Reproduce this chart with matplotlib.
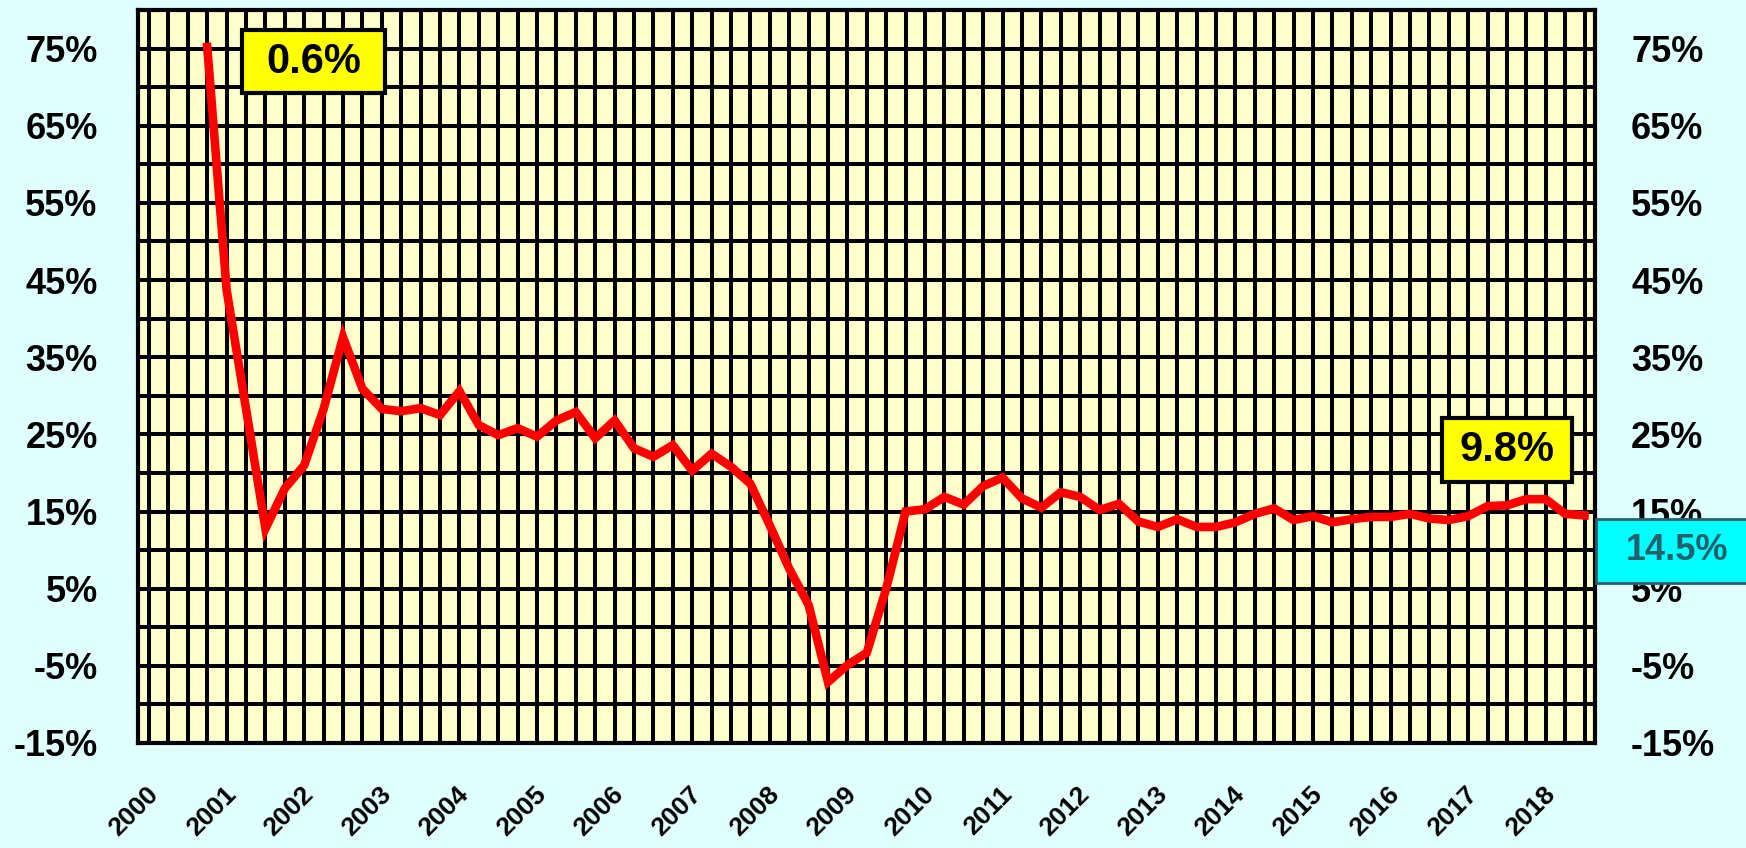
import matplotlib
matplotlib.use("Agg")
import matplotlib.pyplot as plt
import matplotlib.transforms as mtransforms
from matplotlib.patches import Rectangle
import numpy as np
import pandas as pd

# quarterly growth rate, 2000Q4 .. 2018Q3
quarters = pd.period_range("2000Q4", "2018Q3", freq="Q")
growth = [
    75.2, 43.7, 28.3, 12.8, 18.0, 21.0, 28.3, 37.6, 30.9, 28.3,
    28.0, 28.4, 27.5, 30.6, 26.2, 24.9, 25.8, 24.7, 26.8, 27.9,
    24.5, 26.8, 23.2, 22.1, 23.6, 20.3, 22.5, 20.8, 18.6, 13.2,
    7.6, 2.9, -7.1, -4.9, -3.3, 5.0, 15.0, 15.3, 16.9, 15.9,
    18.3, 19.4, 16.7, 15.5, 17.5, 16.9, 15.2, 16.0, 13.7, 13.0,
    14.0, 13.0, 13.0, 13.6, 14.7, 15.4, 13.9, 14.4, 13.6, 14.0,
    14.3, 14.3, 14.7, 14.1, 13.9, 14.4, 15.7, 15.8, 16.6, 16.6,
    14.7, 14.5,
]
years = list(range(2000, 2019))
y_ticks = list(range(-15, 76, 10))
left_note = "0.6%"
right_note = "9.8%"
last_value = "14.5%"

W, H = 1746, 848
fig = plt.figure(figsize=(W / 100, H / 100), dpi=100, facecolor="#E0FFFF")
ax = fig.add_axes([138 / W, 1 - 743 / H, (1595 - 138) / W, (743 - 10) / H])
ax.set_facecolor("#FFFFCC")

x = quarters.year + (quarters.quarter - 1) / 4
ax.plot(x, growth, color="#FF0000", lw=6.2, zorder=3, solid_joinstyle="miter")

ax.set_xlim(2000 - 0.57 / 4, 2000 + 74.54 / 4)
ax.set_ylim(-15, 80)
ax.set_xticks(years)
ax.set_xticks(np.arange(2000, 2018.6, 0.25), minor=True)
ax.set_yticks(y_ticks)
ax.set_yticks(np.arange(-15, 81, 5), minor=True)
ax.set_axisbelow(True)
ax.grid(which="both", color="black", lw=2.9)

ax.set_xticklabels([str(y) for y in years], rotation=45, ha="right", va="top",
                   fontsize=19, fontweight="bold", family="Liberation Sans")
ax.set_yticklabels([f"{v}%" for v in y_ticks], fontsize=26, fontweight="bold",
                   family="Liberation Sans")
ax.tick_params(axis="both", which="both", length=0)
ax.tick_params(axis="x", pad=28)
ax.tick_params(axis="y", pad=29)
shift = mtransforms.ScaledTranslation(0.14, 0, fig.dpi_scale_trans)
for lbl in ax.get_xticklabels():
    lbl.set_transform(lbl.get_transform() + shift)

for sp in ax.spines.values():
    sp.set_linewidth(3)
    sp.set_color("black")

ax2 = ax.twinx()
ax2.set_ylim(ax.get_ylim())
ax2.set_yticks(y_ticks)
ax2.set_yticklabels([f"{v}%" for v in y_ticks], fontsize=26, fontweight="bold",
                    family="Liberation Sans")
ax2.tick_params(axis="y", length=0, pad=26)
for sp in ax2.spines.values():
    sp.set_visible(False)


def px_box(x0, y0, x1, y1, face, edge, lw):
    r = Rectangle((x0 / W, 1 - y1 / H), (x1 - x0) / W, (y1 - y0) / H,
                  transform=fig.transFigure, facecolor=face, edgecolor=edge,
                  lw=lw, zorder=5)
    fig.add_artist(r)


px_box(242, 30, 385, 93, "#FFFF00", "black", 3)
fig.text(313.5 / W, 1 - 62 / H, left_note, ha="center", va="center", fontsize=30,
         fontweight="bold", family="Liberation Sans", zorder=6)
px_box(1442, 418, 1572, 482, "#FFFF00", "black", 3)
fig.text(1507 / W, 1 - 450 / H, right_note, ha="center", va="center", fontsize=30,
         fontweight="bold", family="Liberation Sans", zorder=6)
px_box(1596, 519, 1760, 583, "#00FFFF", "#2F5F6A", 2)
fig.text(1677 / W, 1 - 551 / H, last_value, ha="center", va="center", fontsize=26,
         fontweight="bold", family="Liberation Sans", color="#22606E", zorder=6)

fig.savefig("out.png", dpi=100, facecolor=fig.get_facecolor())
